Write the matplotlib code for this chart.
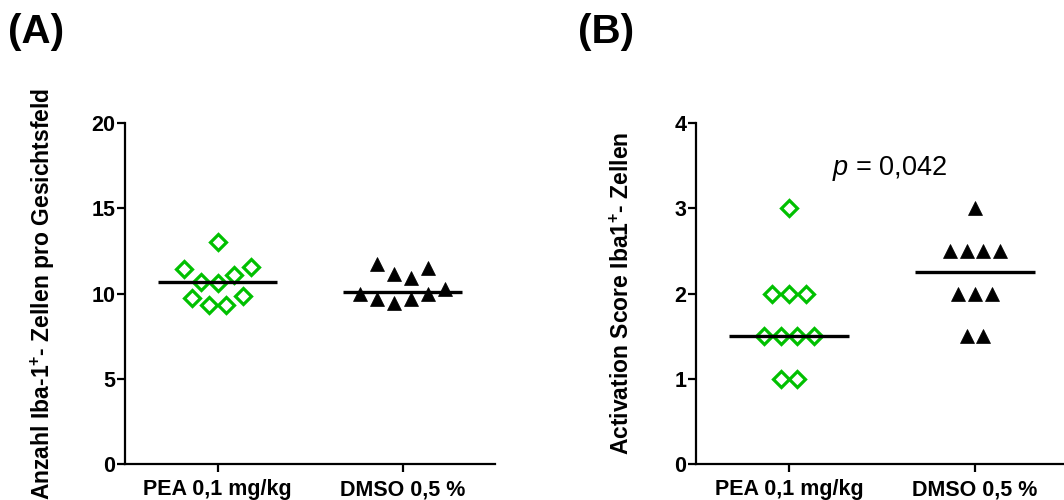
import numpy as np
import matplotlib
matplotlib.use("Agg")
import matplotlib.pyplot as plt

plt.rcParams['font.family'] = ['Liberation Sans', 'DejaVu Sans']
plt.rcParams['mathtext.fontset'] = 'custom'
plt.rcParams['mathtext.rm'] = 'Liberation Sans'
plt.rcParams['mathtext.bf'] = 'Liberation Sans:bold'
plt.rcParams['mathtext.it'] = 'Liberation Sans:italic'

# ---- data ----
groups = ["PEA 0,1 mg/kg", "DMSO 0,5 %"]
pea_count = [13.0, 11.45, 10.7, 10.6, 11.1, 11.55, 9.75, 9.3, 9.3, 9.85]
dmso_count = [11.75, 11.15, 10.9, 11.5, 9.95, 9.7, 9.45, 9.65, 9.95, 10.25]
pea_score = [3.0, 2.0, 2.0, 2.0, 1.5, 1.5, 1.5, 1.5, 1.0, 1.0]
dmso_score = [3.0, 2.5, 2.5, 2.5, 2.5, 2.0, 2.0, 2.0, 1.5, 1.5]
yticks_a = [0, 5, 10, 15, 20]
yticks_b = [0, 1, 2, 3, 4]
p_text = r"$p$ = 0,042"

GREEN = "#00c000"


def swarm_offsets(values, start, width, step):
    """Spread points horizontally within value bins (GraphPad-like)."""
    vals = np.asarray(values, dtype=float)
    bins = np.floor((vals - start) / width).astype(int)
    offs = np.zeros(len(vals))
    for b in np.unique(bins):
        idx = np.where(bins == b)[0]
        n = len(idx)
        offs[idx] = (np.arange(n) - (n - 1) / 2.0) * step
    return offs


def draw_panel(ax, data_list, bin_start, bin_width, ylim, yticks, ylabel,
               label_x):
    step = 0.091
    for i, vals in enumerate(data_list):
        xo = i + swarm_offsets(vals, bin_start, bin_width, step)
        if i == 0:
            ax.plot(xo, vals, linestyle='none', marker='D', markersize=8.5,
                    markerfacecolor='white', markeredgecolor=GREEN,
                    markeredgewidth=2.3, clip_on=False, zorder=3)
        else:
            ax.plot(xo, vals, linestyle='none', marker='^', markersize=10,
                    markerfacecolor='black', markeredgecolor='black',
                    markeredgewidth=0.5, clip_on=False, zorder=3)
        med = np.median(vals)
        ax.plot([i - 0.32, i + 0.32], [med, med], color='black', lw=2.4,
                solid_capstyle='butt', zorder=4)
    ax.set_xlim(-0.5, 1.5)
    ax.set_ylim(*ylim)
    ax.set_yticks(yticks)
    ax.set_xticks([0, 1])
    ax.set_xticklabels(groups, fontsize=15.5, fontweight='bold')
    for lab in ax.get_yticklabels():
        lab.set_fontsize(15.5)
        lab.set_fontweight('bold')
    ax.spines['top'].set_visible(False)
    ax.spines['right'].set_visible(False)
    ax.spines['left'].set_linewidth(1.6)
    ax.spines['bottom'].set_linewidth(1.6)
    ax.tick_params(axis='both', direction='out', length=6, width=1.6,
                   colors='black')
    ax.tick_params(axis='y', pad=1)
    ax.tick_params(axis='x', pad=5)
    ax.set_ylabel(ylabel, fontsize=16.5, fontweight='bold')
    ax.yaxis.set_label_coords(label_x, 0.5)


fig = plt.figure(figsize=(10.64, 5.0), dpi=100)
axA = fig.add_axes([125 / 1064, 1 - 464 / 500, 370 / 1064, 341 / 500])
axB = fig.add_axes([696 / 1064, 1 - 464 / 500, 372 / 1064, 341 / 500])

draw_panel(axA, [pea_count, dmso_count], 9.1, 1.35, (0, 20), yticks_a,
           r"Anzahl Iba-1$^{\mathbf{+}}$- Zellen pro Gesichtsfeld",
           (57 - 125) / 370)
draw_panel(axB, [pea_score, dmso_score], 0.875, 0.25, (0, 4), yticks_b,
           r"Activation Score Iba1$^{\mathbf{+}}$- Zellen",
           (634 - 696) / 372)

axB.text(0.54, 3.47, p_text, ha='center', va='center', fontsize=19.5)

fig.text(8 / 1064, 1 - 32 / 500, "(A)", fontsize=29, fontweight='bold',
         ha='left', va='center')
fig.text(578 / 1064, 1 - 32 / 500, "(B)", fontsize=29, fontweight='bold',
         ha='left', va='center')

fig.savefig("out.png", dpi=100)
